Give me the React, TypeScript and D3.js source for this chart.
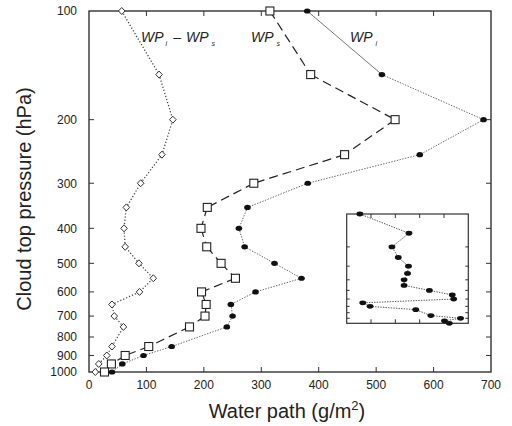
import React from "react";
import * as d3 from "d3";

const pressure = [100, 150, 200, 250, 300, 350, 400, 450, 500, 550, 600, 650, 700, 750, 850, 900, 950, 1000];
const wpIce = [380, 510, 687, 576, 381, 276, 261, 271, 323, 370, 290, 247, 250, 240, 144, 95, 58, 40];
const wpSnow = [315, 386, 533, 445, 287, 206, 195, 205, 230, 255, 196, 204, 202, 175, 104, 63, 39, 27];
const wpDiff = [57, 122, 146, 127, 90, 65, 61, 63, 87, 112, 88, 40, 44, 60, 40, 31, 17, 11];
const insetRatio = [0.127, 0.228, 0.193, 0.206, 0.227, 0.225, 0.218, 0.218, 0.27, 0.317, 0.32, 0.133, 0.148, 0.242, 0.273, 0.334, 0.301, 0.311];

const xTicks = [0, 100, 200, 300, 400, 500, 600, 700];
const yTicks = [100, 200, 300, 400, 500, 600, 700, 800, 900, 1000];
const insetXTicks = [0.15, 0.2, 0.25, 0.3];
const insetYTicks = [200, 300, 400, 500, 600, 700, 800, 900];

const FONT = "'Liberation Sans', Arial, sans-serif";

export default function App() {
  const x = d3.scaleLinear().domain([0, 700]).range([89, 491]);
  const y = d3.scaleLog().domain([100, 1000]).range([11, 372]);
  const xi = d3.scaleLinear().domain([0.1, 0.35]).range([346.7, 468.3]);
  const yi = d3.scaleLog().domain([100, 1000]).range([214, 323.3]);

  const pts = (vals: number[]) => vals.map((v, i) => [x(v), y(pressure[i])] as [number, number]);
  const ice = pts(wpIce);
  const snow = pts(wpSnow);
  const diff = pts(wpDiff);
  const ins = insetRatio.map((v, i) => [xi(v), yi(pressure[i])] as [number, number]);
  const line = d3.line();

  const [x0, x1] = x.range();
  const [y0, y1] = y.range();
  const [ix0, ix1] = xi.range();
  const [iy0, iy1] = yi.range();

  return (
    <svg width={512} height={426} style={{ position: "absolute", left: 0, top: 0, background: "#fff" }} fontFamily={FONT}>
      <rect width={512} height={426} fill="#fff" />
      {/* ticks main */}
      <g stroke="#333" strokeWidth={1}>
        {xTicks.slice(1, -1).map((t) => (
          <g key={"xt" + t}>
            <line x1={x(t)} x2={x(t)} y1={y0} y2={y0 + 5} />
            <line x1={x(t)} x2={x(t)} y1={y1} y2={y1 - 5} />
          </g>
        ))}
        {yTicks.slice(1, -1).map((t) => (
          <g key={"yt" + t}>
            <line x1={x0} x2={x0 + 5} y1={y(t)} y2={y(t)} />
            <line x1={x1} x2={x1 - 5} y1={y(t)} y2={y(t)} />
          </g>
        ))}
      </g>
      <rect x={x0} y={y0} width={x1 - x0} height={y1 - y0} fill="none" stroke="#333" strokeWidth={1.4} />
      {/* tick labels */}
      <g fontSize={12} fill="#222">
        {xTicks.map((t) => (
          <text key={"xl" + t} x={x(t)} y={389} textAnchor="middle">{t}</text>
        ))}
        {yTicks.map((t) => (
          <text key={"yl" + t} x={77} y={y(t) + 4.3} textAnchor="end">{t}</text>
        ))}
      </g>
      {/* axis titles */}
      <text x={287} y={418} textAnchor="middle" fontSize={20} fill="#222">
        Water path (g/m<tspan fontSize={13} dy={-8}>2</tspan><tspan dy={8}>)</tspan>
      </text>
      <text transform="translate(31,199) rotate(-90)" textAnchor="middle" fontSize={20} fill="#222">
        Cloud top pressure (hPa)
      </text>

      {/* WPi line */}
      {ice.slice(1).map((p, i) => (
        <path key={"il" + i} d={line([ice[i], p]) || ""} fill="none" stroke="#666" strokeWidth={i === 0 ? 0.9 : 1}
          strokeDasharray={i === 0 ? undefined : "1.4,1.4"} />
      ))}
      {/* WPs line */}
      {snow.slice(1).map((p, i) => (
        <path key={"sl" + i} d={line([snow[i], p]) || ""} fill="none" stroke="#222" strokeWidth={1.2} strokeDasharray="9,5" />
      ))}
      {/* diff line */}
      <path d={line(diff) || ""} fill="none" stroke="#444" strokeWidth={1.3} strokeDasharray="1.2,2" />

      {/* markers */}
      {ice.map(([px, py], i) => (
        <ellipse key={"im" + i} cx={px} cy={py} rx={3.3} ry={2.6} fill="#111" />
      ))}
      {snow.map(([px, py], i) => (
        <rect key={"sm" + i} x={px - 4} y={py - 4} width={8} height={8} fill="#fff" stroke="#222" strokeWidth={1.1} />
      ))}
      {diff.map(([px, py], i) => (
        <path key={"dm" + i} d={`M${px},${py - 3.5}L${px + 3.3},${py}L${px},${py + 3.5}L${px - 3.3},${py}Z`} fill="#fff" stroke="#333" strokeWidth={1} />
      ))}

      {/* series labels */}
      <g fontSize={14} fontStyle="italic" fill="#222">
        <text x={141} y={42}>WP<tspan fontSize={7} dx={2} dy={4}>i</tspan><tspan dy={-4} dx={6}>–</tspan><tspan dx={5}>WP</tspan><tspan fontSize={7} dx={3} dy={4}>s</tspan></text>
        <text x={251} y={42}>WP<tspan fontSize={7} dx={3} dy={4}>s</tspan></text>
        <text x={350} y={42}>WP<tspan fontSize={7} dx={3} dy={4}>i</tspan></text>
      </g>

      {/* inset */}
      <rect x={ix0} y={iy0} width={ix1 - ix0} height={iy1 - iy0} fill="#fff" stroke="#333" strokeWidth={1.2} />
      <g stroke="#333" strokeWidth={1}>
        {insetXTicks.map((t) => (
          <g key={"ixt" + t}>
            <line x1={xi(t)} x2={xi(t)} y1={iy0} y2={iy0 + 4} />
            <line x1={xi(t)} x2={xi(t)} y1={iy1} y2={iy1 - 4} />
          </g>
        ))}
        {insetYTicks.map((t) => (
          <g key={"iyt" + t}>
            <line x1={ix0} x2={ix0 + 3} y1={yi(t)} y2={yi(t)} />
            <line x1={ix1} x2={ix1 - 3} y1={yi(t)} y2={yi(t)} />
          </g>
        ))}
      </g>
      <path d={line(ins) || ""} fill="none" stroke="#555" strokeWidth={1} strokeDasharray="1.4,1.2" />
      {ins.map(([px, py], i) => (
        <ellipse key={"in" + i} cx={px} cy={py} rx={3.4} ry={2.4} fill="#111" />
      ))}
    </svg>
  );
}
